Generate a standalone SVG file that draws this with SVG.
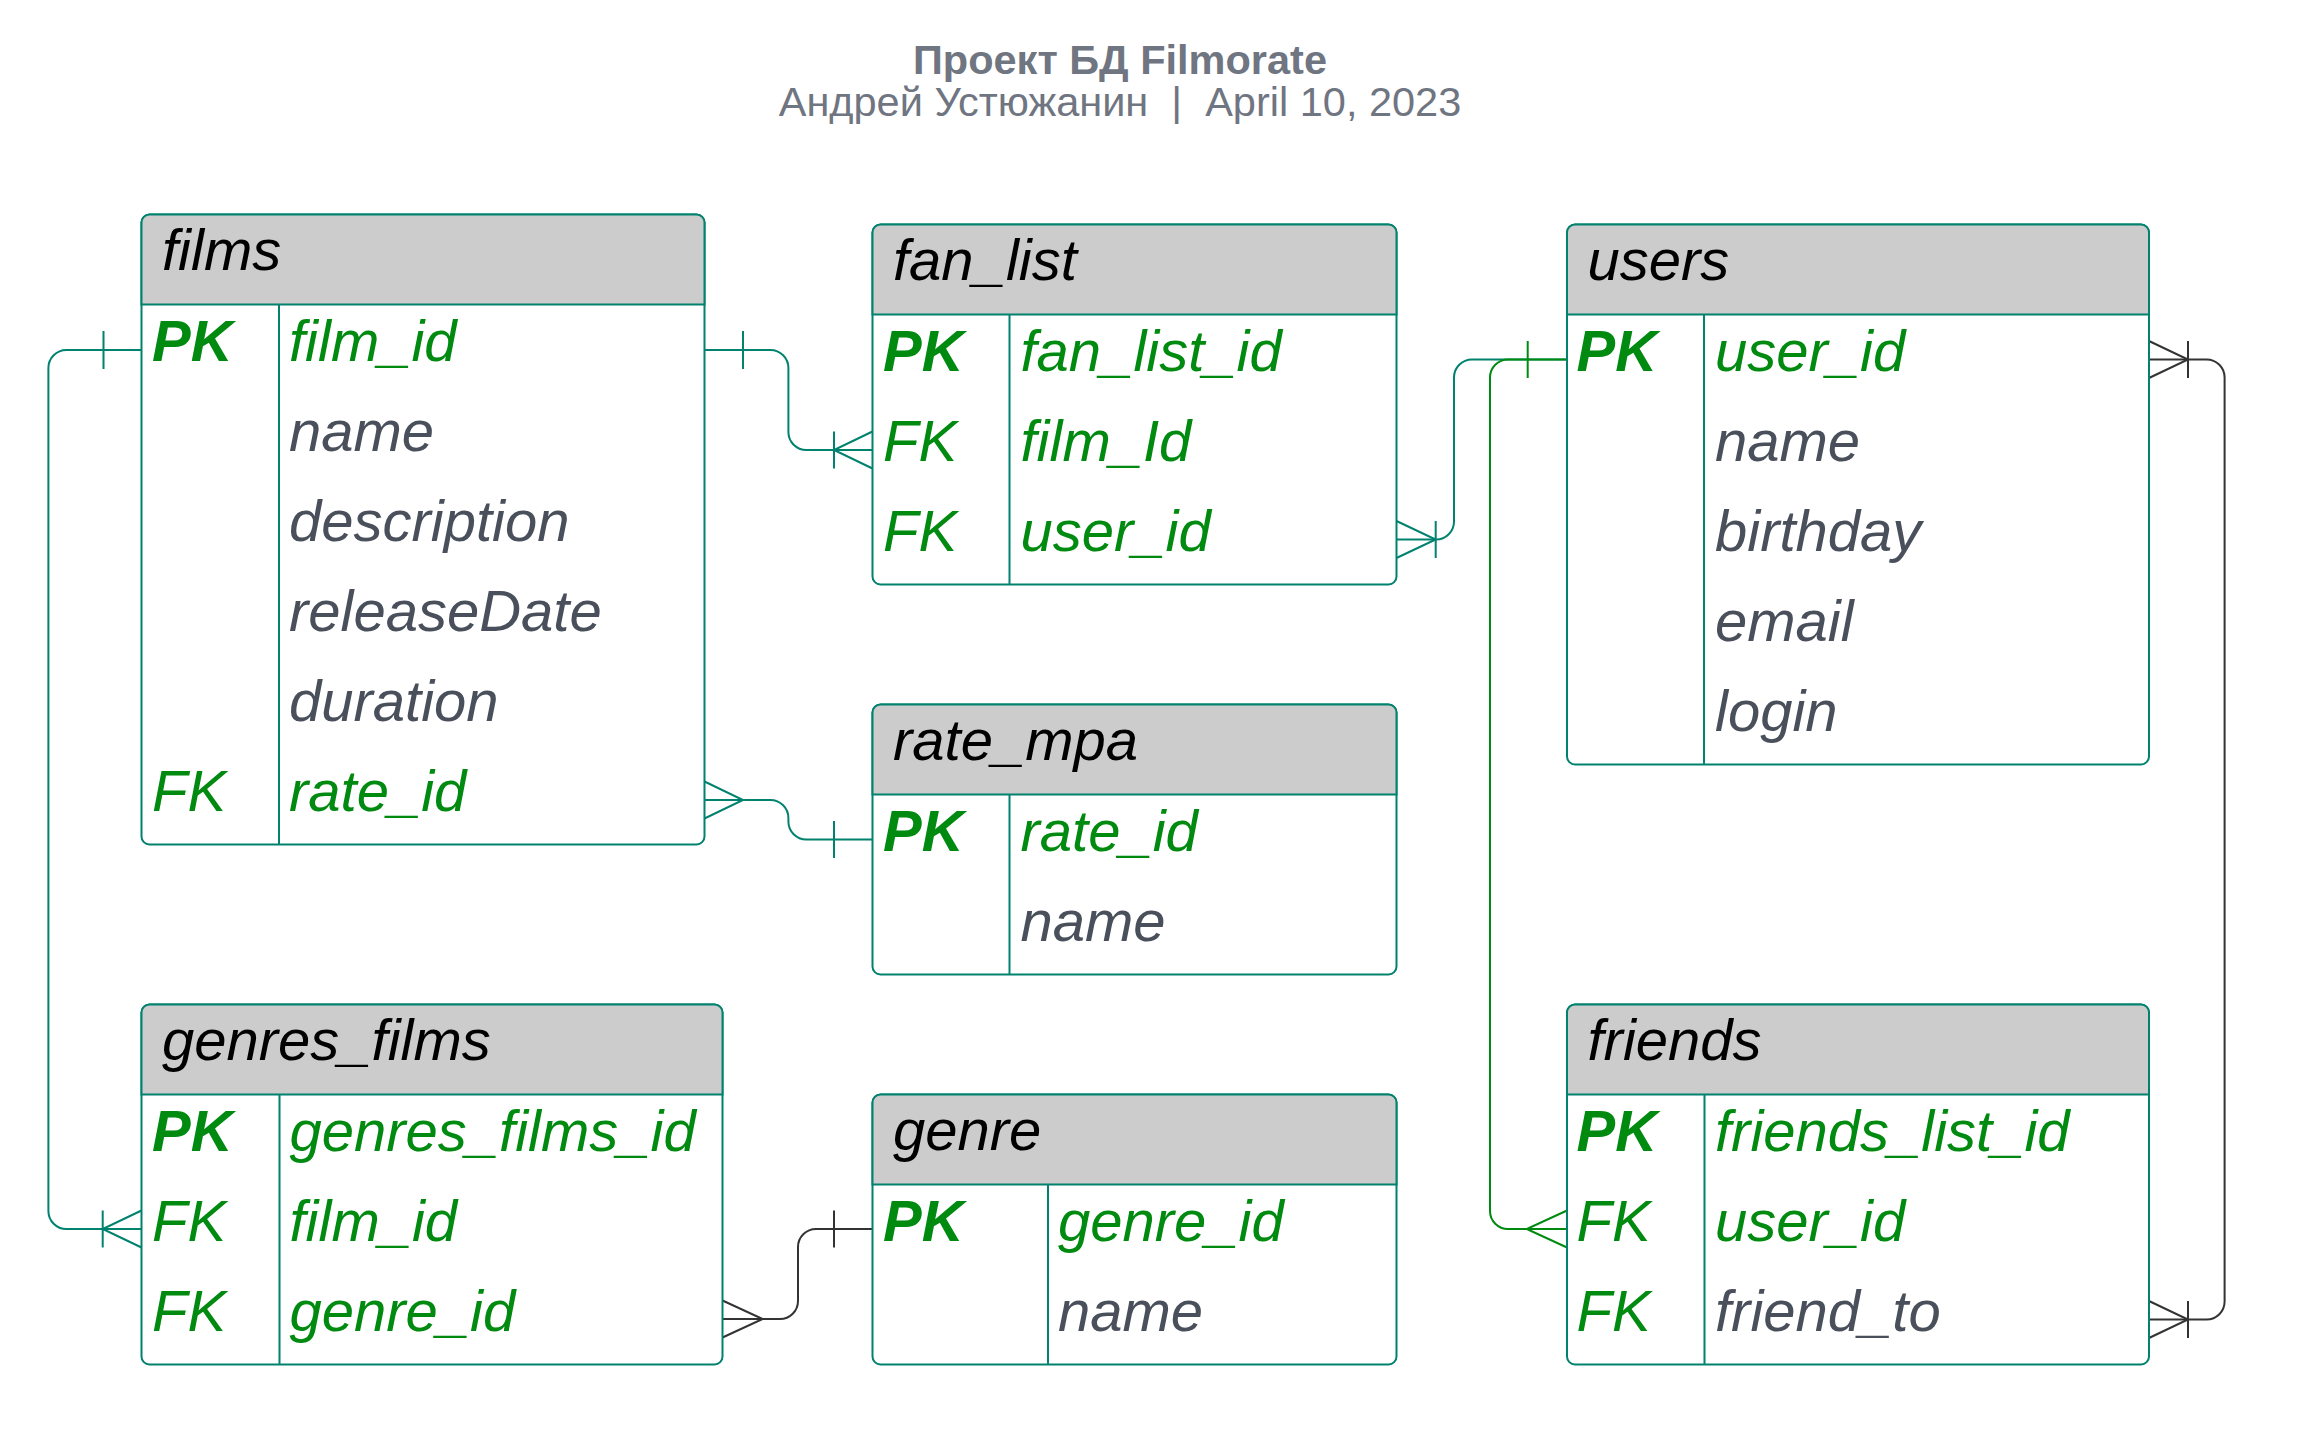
<svg xmlns="http://www.w3.org/2000/svg" width="2297" height="1436" viewBox="0 0 2297 1436">
<defs>
<style>
text{font-family:"Liberation Sans",Arial,sans-serif;}
.title{font-size:41.5px;font-weight:bold;fill:#6f7581;}
.sub{font-size:41.5px;fill:#6f7581;}
.box{fill:#ffffff;stroke:#00826f;stroke-width:2;}
.hdr{fill:#cccccc;stroke:#00826f;stroke-width:2;}
.div{stroke:#00826f;stroke-width:2;fill:none;}
.hname{font-size:58px;font-style:italic;fill:#000000;}
.pk{font-size:58px;font-style:italic;font-weight:bold;fill:#008a10;}
.fk{font-size:58px;font-style:italic;fill:#008a10;}
.fg{font-size:58px;font-style:italic;fill:#008a10;}
.fn{font-size:58px;font-style:italic;fill:#4a505b;}
.teal{stroke:#00826f;stroke-width:2;fill:none;}
.green{stroke:#008a10;stroke-width:2;fill:none;}
.dark{stroke:#333333;stroke-width:2;fill:none;}
</style>
</defs>
<rect x="0" y="0" width="2297" height="1436" fill="#ffffff"/>

<g id="title">
<text class="title" x="1120" y="73.5" text-anchor="middle">Проект БД Filmorate</text>
<text class="sub" x="1120" y="116" text-anchor="middle" xml:space="preserve">Андрей Устюжанин  |  April 10, 2023</text>
</g>

<g id="connectors">
<!-- films.film_id -> genres_films.film_id -->
<path class="teal" d="M141.5,350 H66.4 A18,18 0 0 0 48.4,368 V1211 A18,18 0 0 0 66.4,1229 H141.5"/>
<path class="teal" d="M103.5,331 V369 M102.7,1210.5 V1247.5 M141.5,1210.5 L102.7,1229 L141.5,1247.5"/>
<!-- films.film_id -> fan_list.film_Id -->
<path class="teal" d="M704.5,350 H770.4 A18,18 0 0 1 788.4,368 V432 A18,18 0 0 0 806.4,450 H872.5"/>
<path class="teal" d="M743,331 V369 M834,431.5 V468.5 M872.5,431.5 L834,450 L872.5,468.5"/>
<!-- films.rate_id -> rate_mpa.rate_id -->
<path class="teal" d="M704.5,800 H770.4 A18,18 0 0 1 788.4,818 V821.5 A18,18 0 0 0 806.4,839.5 H872.5"/>
<path class="teal" d="M704.5,781.5 L743,800 L704.5,818.5 M834,821 V858"/>
<!-- genres_films.genre_id -> genre.genre_id -->
<path class="dark" d="M722.5,1319 H780 A18,18 0 0 0 798,1301 V1247 A18,18 0 0 1 816,1229 H872.5"/>
<path class="dark" d="M722.5,1300.5 L762.7,1319 L722.5,1337.5 M834,1210.5 V1247.5"/>
<!-- fan_list.user_id -> users.user_id -->
<path class="teal" d="M1396.5,539.5 H1436 A18,18 0 0 0 1454,521.5 V377.5 A18,18 0 0 1 1472,359.5 H1567"/>
<path class="teal" d="M1396.5,521 L1435.7,539.5 L1396.5,558 M1435.7,521 V558"/>
<!-- users.user_id -> friends.user_id -->
<path class="green" d="M1567,359.5 H1508 A18,18 0 0 0 1490,377.5 V1211 A18,18 0 0 0 1508,1229 H1567"/>
<path class="green" d="M1527.7,341 V378 M1567,1210.5 L1526.7,1229 L1567,1247.5"/>
<!-- users.user_id -> friends.friend_to -->
<path class="dark" d="M2149,359.5 H2206.6 A18,18 0 0 1 2224.6,377.5 V1301.5 A18,18 0 0 1 2206.6,1319.5 H2149"/>
<path class="dark" d="M2149,341 L2188,359.5 L2149,378 M2188,341 V378 M2149,1301 L2188,1319.5 L2149,1338 M2188,1301 V1338"/>
</g>

<g id="films">
<rect class="box" x="141.5" y="214.5" width="563" height="630" rx="8"/>
<path class="hdr" d="M141.5,304.5 V222.5 A8,8 0 0 1 149.5,214.5 H696.5 A8,8 0 0 1 704.5,222.5 V304.5 Z"/>
<line class="div" x1="279" y1="304.5" x2="279" y2="844.5"/>
<text class="hname" x="162" y="270">films</text>
<text class="pk" x="152" y="360.5">PK</text><text class="fg" x="289" y="360.5">film_id</text>
<text class="fn" x="289" y="450.5">name</text>
<text class="fn" x="289" y="540.5">description</text>
<text class="fn" x="289" y="630.5">releaseDate</text>
<text class="fn" x="289" y="720.5">duration</text>
<text class="fk" x="152" y="810.5">FK</text><text class="fg" x="289" y="810.5">rate_id</text>
</g>

<g id="fan_list">
<rect class="box" x="872.5" y="224.5" width="524" height="360" rx="8"/>
<path class="hdr" d="M872.5,314.5 V232.5 A8,8 0 0 1 880.5,224.5 H1388.5 A8,8 0 0 1 1396.5,232.5 V314.5 Z"/>
<line class="div" x1="1009.5" y1="314.5" x2="1009.5" y2="584.5"/>
<text class="hname" x="893" y="280">fan_list</text>
<text class="pk" x="883" y="370.5">PK</text><text class="fg" x="1020.5" y="370.5">fan_list_id</text>
<text class="fk" x="883" y="460.5">FK</text><text class="fg" x="1020.5" y="460.5">film_Id</text>
<text class="fk" x="883" y="550.5">FK</text><text class="fg" x="1020.5" y="550.5">user_id</text>
</g>

<g id="users">
<rect class="box" x="1567" y="224.5" width="582" height="540" rx="8"/>
<path class="hdr" d="M1567,314.5 V232.5 A8,8 0 0 1 1575,224.5 H2141 A8,8 0 0 1 2149,232.5 V314.5 Z"/>
<line class="div" x1="1704" y1="314.5" x2="1704" y2="764.5"/>
<text class="hname" x="1587.5" y="280">users</text>
<text class="pk" x="1576.5" y="370.5">PK</text><text class="fg" x="1715" y="370.5">user_id</text>
<text class="fn" x="1715" y="460.5">name</text>
<text class="fn" x="1715" y="550.5">birthday</text>
<text class="fn" x="1715" y="640.5">email</text>
<text class="fn" x="1715" y="730.5">login</text>
</g>

<g id="rate_mpa">
<rect class="box" x="872.5" y="704.5" width="524" height="270" rx="8"/>
<path class="hdr" d="M872.5,794.5 V712.5 A8,8 0 0 1 880.5,704.5 H1388.5 A8,8 0 0 1 1396.5,712.5 V794.5 Z"/>
<line class="div" x1="1009.5" y1="794.5" x2="1009.5" y2="974.5"/>
<text class="hname" x="893" y="760">rate_mpa</text>
<text class="pk" x="883" y="850.5">PK</text><text class="fg" x="1020.5" y="850.5">rate_id</text>
<text class="fn" x="1020.5" y="940.5">name</text>
</g>

<g id="genres_films">
<rect class="box" x="141.5" y="1004.5" width="581" height="360" rx="8"/>
<path class="hdr" d="M141.5,1094.5 V1012.5 A8,8 0 0 1 149.5,1004.5 H714.5 A8,8 0 0 1 722.5,1012.5 V1094.5 Z"/>
<line class="div" x1="279.5" y1="1094.5" x2="279.5" y2="1364.5"/>
<text class="hname" x="162" y="1060">genres_films</text>
<text class="pk" x="152" y="1150.5">PK</text><text class="fg" x="289.5" y="1150.5">genres_films_id</text>
<text class="fk" x="152" y="1240.5">FK</text><text class="fg" x="289.5" y="1240.5">film_id</text>
<text class="fk" x="152" y="1330.5">FK</text><text class="fg" x="289.5" y="1330.5">genre_id</text>
</g>

<g id="genre">
<rect class="box" x="872.5" y="1094.5" width="524" height="270" rx="8"/>
<path class="hdr" d="M872.5,1184.5 V1102.5 A8,8 0 0 1 880.5,1094.5 H1388.5 A8,8 0 0 1 1396.5,1102.5 V1184.5 Z"/>
<line class="div" x1="1048" y1="1184.5" x2="1048" y2="1364.5"/>
<text class="hname" x="893" y="1150">genre</text>
<text class="pk" x="883" y="1240.5">PK</text><text class="fg" x="1058" y="1240.5">genre_id</text>
<text class="fn" x="1058" y="1330.5">name</text>
</g>

<g id="friends">
<rect class="box" x="1567" y="1004.5" width="582" height="360" rx="8"/>
<path class="hdr" d="M1567,1094.5 V1012.5 A8,8 0 0 1 1575,1004.5 H2141 A8,8 0 0 1 2149,1012.5 V1094.5 Z"/>
<line class="div" x1="1704.5" y1="1094.5" x2="1704.5" y2="1364.5"/>
<text class="hname" x="1587.5" y="1060">friends</text>
<text class="pk" x="1576.5" y="1150.5">PK</text><text class="fg" x="1715" y="1150.5">friends_list_id</text>
<text class="fk" x="1576.5" y="1240.5">FK</text><text class="fg" x="1715" y="1240.5">user_id</text>
<text class="fk" x="1576.5" y="1330.5">FK</text><text class="fn" x="1715" y="1330.5">friend_to</text>
</g>
</svg>
